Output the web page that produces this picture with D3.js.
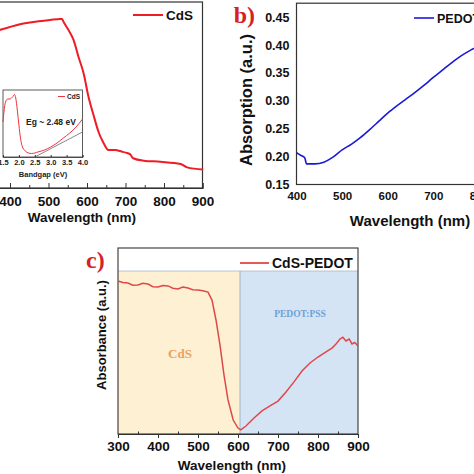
<!DOCTYPE html>
<html><head><meta charset="utf-8">
<script src="https://cdn.jsdelivr.net/npm/d3@7"></script>
<style>
html,body{margin:0;padding:0;background:#fff;}
svg{display:block;}
text{font-family:"Liberation Sans",Arial,sans-serif;font-weight:bold;}
.serif{font-family:"Liberation Serif","Times New Roman",serif;}
</style></head>
<body>
<script>
// ---------- Panel a: CdS absorbance ----------
const aWave = [372,400,426,460,504,530,535,539,552,565,578,591,604,617,630,643,656,673,690,704,712,720,747,791,843,860,902];
const aAbs  = [0.849,0.866,0.880,0.892,0.903,0.909,0.909,0.894,0.849,0.796,0.704,0.618,0.489,0.392,0.301,0.242,0.204,0.204,0.196,0.188,0.181,0.160,0.147,0.141,0.129,0.111,0.100];
const aTicks = [300,400,500,600,700,800,900];
const aLegend = "CdS";
// inset (Tauc)
const inEv  = [1.5,1.53,1.58,1.65,1.72,1.8,1.86,1.9,1.95,2.0,2.05,2.1,2.2,2.3,2.4,2.6,2.8,3.0,3.2,3.4,3.6,3.8,4.0];
const inVal = [0.522,0.672,0.821,0.866,0.866,0.896,0.933,0.881,0.701,0.478,0.284,0.164,0.090,0.060,0.052,0.075,0.104,0.149,0.209,0.284,0.358,0.448,0.567];
const inFitEv = [2.5,4.0];
const inFitVal = [0.0,0.373];
const inTicks = [1.5,2.0,2.5,3.0,3.5,4.0];
const inLabel = "Eg ~ 2.48 eV";

// ---------- Panel b: PEDOT:PSS ----------
const bWave = [400,410,418,422,440,460,480,500,520,540,560,580,600,620,640,660,680,700,720,740,760,780,800,820];
const bAbs  = [0.207,0.202,0.198,0.187,0.187,0.190,0.199,0.212,0.222,0.234,0.248,0.263,0.278,0.291,0.303,0.315,0.328,0.342,0.355,0.368,0.380,0.390,0.398,0.405];
const bXTicks = [400,500,600,700,800,900];
const bYTicks = [0.15,0.20,0.25,0.30,0.35,0.40,0.45];
const bLegend = "PEDOT:PSS";

// ---------- Panel c: CdS-PEDOT ----------
const cWave = [300,312,325,337,350,362,375,387,400,412,425,437,450,462,475,487,500,512,525,535,545,555,565,575,588,600,607,620,640,660,680,700,720,740,760,780,800,820,835,845,855,862,870,878,885,892,900];
const cAbs  = [0.823,0.815,0.812,0.800,0.801,0.810,0.806,0.792,0.790,0.798,0.796,0.784,0.780,0.790,0.785,0.776,0.774,0.770,0.763,0.720,0.613,0.478,0.317,0.183,0.075,0.032,0.022,0.043,0.086,0.124,0.151,0.177,0.226,0.280,0.339,0.382,0.414,0.441,0.462,0.484,0.511,0.520,0.500,0.510,0.484,0.492,0.473];
const cTicks = [300,400,500,600,700,800,900];
const cSplit = 605;
const cLegend = "CdS-PEDOT";

const W = 474, H = 474;
const svg = d3.select("body").append("svg").attr("width", W).attr("height", H);
const frame = "#333";

// ===== Panel a =====
{
  const x = d3.scaleLinear().domain([300, 900]).range([-28.5, 202.5]);
  const y = d3.scaleLinear().domain([0, 1]).range([188, 2]);
  const g = svg.append("g");
  g.append("rect").attr("x", x(300)).attr("y", 2).attr("width", x(900) - x(300)).attr("height", 186)
    .attr("fill", "none").attr("stroke", frame).attr("stroke-width", 1.2);
  const ax = d3.axisBottom(x).tickValues(aTicks).tickSize(-5).tickPadding(8).tickFormat(d3.format("d"));
  const axg = g.append("g").attr("transform", "translate(0,188)").call(ax);
  axg.select(".domain").attr("stroke", frame).attr("stroke-width", 1.2);
  axg.selectAll(".tick line").attr("stroke", frame);
  axg.selectAll(".tick text").attr("font-size", 13.5).attr("fill", "#111").attr("font-weight", "bold");
  const minor = d3.axisBottom(x).tickValues([350,450,550,650,750,850]).tickSize(-3).tickFormat("");
  const mg = g.append("g").attr("transform", "translate(0,188)").call(minor);
  mg.select(".domain").remove(); mg.selectAll("line").attr("stroke", frame);
  g.append("text").attr("x", 82).attr("y", 222).attr("text-anchor", "middle").attr("font-size", 13.5)
    .attr("fill", "#111").text("Wavelength (nm)");
  const line = d3.line().x((d, i) => x(aWave[i])).y(d => y(d)).curve(d3.curveMonotoneX);
  g.append("path").datum(aAbs).attr("d", line).attr("fill", "none").attr("stroke", "#ee1c25").attr("stroke-width", 2);
  g.append("line").attr("x1", 133).attr("x2", 163).attr("y1", 15).attr("y2", 15).attr("stroke", "#ee1c25").attr("stroke-width", 2);
  g.append("text").attr("x", 166).attr("y", 20).attr("font-size", 13.5).attr("fill", "#111").text(aLegend);

  // inset
  const ix = d3.scaleLinear().domain([1.5, 4.0]).range([3, 82.5]);
  const iy = d3.scaleLinear().domain([0, 1]).range([157, 90]);
  const ig = g.append("g");
  ig.append("rect").attr("x", 3).attr("y", 90).attr("width", 79.5).attr("height", 67)
    .attr("fill", "#fff").attr("stroke", frame).attr("stroke-width", 0.8);
  const iax = d3.axisBottom(ix).tickValues(inTicks).tickSize(-2).tickPadding(3).tickFormat(d3.format(".1f"));
  const iag = ig.append("g").attr("transform", "translate(0,157)").call(iax);
  iag.select(".domain").attr("stroke", frame).attr("stroke-width", 0.8);
  iag.selectAll(".tick line").attr("stroke", frame);
  iag.selectAll(".tick text").attr("font-size", 7.5).attr("fill", "#222").attr("font-weight", "bold");
  ig.append("text").attr("x", 43).attr("y", 177).attr("text-anchor", "middle").attr("font-size", 7.5)
    .attr("fill", "#222").text("Bandgap (eV)");
  const fit = d3.line().x((d, i) => ix(inFitEv[i])).y(d => iy(d));
  ig.append("path").datum(inFitVal).attr("d", fit).attr("stroke", "#555").attr("stroke-width", 0.7).attr("fill", "none");
  const il = d3.line().x((d, i) => ix(inEv[i])).y(d => iy(d)).curve(d3.curveMonotoneX);
  ig.append("path").datum(inVal).attr("d", il).attr("fill", "none").attr("stroke", "#ee3340").attr("stroke-width", 1);
  ig.append("line").attr("x1", 58).attr("x2", 65).attr("y1", 96.5).attr("y2", 96.5).attr("stroke", "#ee3340").attr("stroke-width", 1);
  ig.append("text").attr("x", 67).attr("y", 99).attr("font-size", 6.5).attr("fill", "#222").text("CdS");
  ig.append("text").attr("x", 26).attr("y", 125).attr("font-size", 8.5).attr("fill", "#222").text(inLabel);
}

// ===== Panel b =====
{
  const x = d3.scaleLinear().domain([400, 900]).range([296.5, 524.5]);
  const y = d3.scaleLinear().domain([0.15, 0.475]).range([184.5, 3.2]);
  const g = svg.append("g");
  g.append("rect").attr("x", x(400)).attr("y", y(0.475)).attr("width", x(900) - x(400)).attr("height", y(0.15) - y(0.475))
    .attr("fill", "none").attr("stroke", frame).attr("stroke-width", 1.2);
  const ax = d3.axisBottom(x).tickValues(bXTicks).tickSize(0).tickPadding(7).tickFormat(d3.format("d"));
  const axg = g.append("g").attr("transform", `translate(0,${y(0.15)})`).call(ax);
  axg.select(".domain").remove();
  axg.selectAll(".tick text").attr("font-size", 11.5).attr("fill", "#111").attr("font-weight", "bold");
  const ay = d3.axisLeft(y).tickValues(bYTicks).tickSize(0).tickPadding(7).tickFormat(d3.format(".2f"));
  const ayg = g.append("g").attr("transform", `translate(${x(400)},0)`).call(ay);
  ayg.select(".domain").remove();
  ayg.selectAll(".tick text").attr("font-size", 12.5).attr("fill", "#111").attr("font-weight", "bold");
  g.append("text").attr("x", 410).attr("y", 226).attr("text-anchor", "middle").attr("font-size", 15)
    .attr("fill", "#111").text("Wavelength (nm)");
  g.append("text").attr("transform", "translate(252,100) rotate(-90)").attr("text-anchor", "middle")
    .attr("font-size", 16.5).attr("fill", "#111").text("Absorption (a.u.)");
  const line = d3.line().x((d, i) => x(bWave[i])).y(d => y(d)).curve(d3.curveMonotoneX);
  g.append("path").datum(bAbs).attr("d", line).attr("fill", "none").attr("stroke", "#1a1ad6").attr("stroke-width", 1.6);
  g.append("line").attr("x1", 414).attr("x2", 434).attr("y1", 18).attr("y2", 18).attr("stroke", "#1a1ad6").attr("stroke-width", 1.6);
  g.append("text").attr("x", 437).attr("y", 22.5).attr("font-size", 12.5).attr("fill", "#111").text(bLegend);
  g.append("text").attr("class", "serif").attr("x", 255).attr("y", 23).attr("text-anchor", "end")
    .attr("font-size", 24).attr("fill", "#d61f26").text("b)");
}

// ===== Panel c =====
{
  const x = d3.scaleLinear().domain([300, 900]).range([118, 358]);
  const y = d3.scaleLinear().domain([0, 1]).range([434, 248]);
  const g = svg.append("g");
  const bandTop = 271;
  g.append("rect").attr("x", x(300)).attr("y", bandTop).attr("width", x(cSplit) - x(300)).attr("height", 434 - bandTop).attr("fill", "#fdf0d3");
  g.append("rect").attr("x", x(cSplit)).attr("y", bandTop).attr("width", x(900) - x(cSplit)).attr("height", 434 - bandTop).attr("fill", "#d5e4f4");
  g.append("line").attr("x1", x(300)).attr("x2", x(900)).attr("y1", bandTop).attr("y2", bandTop).attr("stroke", "#a8b8c8").attr("stroke-width", 0.8);
  g.append("line").attr("x1", x(cSplit)).attr("x2", x(cSplit)).attr("y1", bandTop).attr("y2", 434).attr("stroke", "#8fa4bb").attr("stroke-width", 0.8);
  g.append("rect").attr("x", x(300)).attr("y", 248).attr("width", x(900) - x(300)).attr("height", 186)
    .attr("fill", "none").attr("stroke", frame).attr("stroke-width", 1.1);
  const ax = d3.axisBottom(x).tickValues(cTicks).tickSize(4).tickPadding(3).tickFormat(d3.format("d"));
  const axg = g.append("g").attr("transform", "translate(0,434)").call(ax);
  axg.select(".domain").attr("stroke", frame).attr("stroke-width", 1.1);
  axg.selectAll(".tick line").attr("stroke", frame);
  axg.selectAll(".tick text").attr("font-size", 13.5).attr("fill", "#111").attr("font-weight", "bold");
  const minor = d3.axisBottom(x).tickValues([350,450,550,650,750,850]).tickSize(-2.5).tickFormat("");
  const mg = g.append("g").attr("transform", "translate(0,434)").call(minor);
  mg.select(".domain").remove(); mg.selectAll("line").attr("stroke", frame);
  g.append("text").attr("x", 232).attr("y", 470).attr("text-anchor", "middle").attr("font-size", 13.5)
    .attr("fill", "#111").text("Wavelength (nm)");
  g.append("text").attr("transform", "translate(106,335) rotate(-90)").attr("text-anchor", "middle")
    .attr("font-size", 13).attr("fill", "#111").text("Absorbance (a.u.)");
  g.append("text").attr("class", "serif").attr("x", 180).attr("y", 358).attr("text-anchor", "middle")
    .attr("font-size", 13).attr("fill", "#e8a35f").text("CdS");
  g.append("text").attr("class", "serif").attr("x", 300).attr("y", 317).attr("text-anchor", "middle")
    .attr("font-size", 9.5).attr("fill", "#6f9fd6").text("PEDOT:PSS");
  const line = d3.line().x((d, i) => x(cWave[i])).y(d => y(d));
  g.append("path").datum(cAbs).attr("d", line).attr("fill", "none").attr("stroke", "#e04848").attr("stroke-width", 1.5);
  g.append("line").attr("x1", 240).attr("x2", 269).attr("y1", 263).attr("y2", 263).attr("stroke", "#e04848").attr("stroke-width", 1.8);
  g.append("text").attr("x", 272).attr("y", 268).attr("font-size", 14).attr("fill", "#111").text(cLegend);
  g.append("text").attr("class", "serif").attr("x", 86).attr("y", 268)
    .attr("font-size", 24).attr("fill", "#d61f26").text("c)");
}
</script>
</body></html>
